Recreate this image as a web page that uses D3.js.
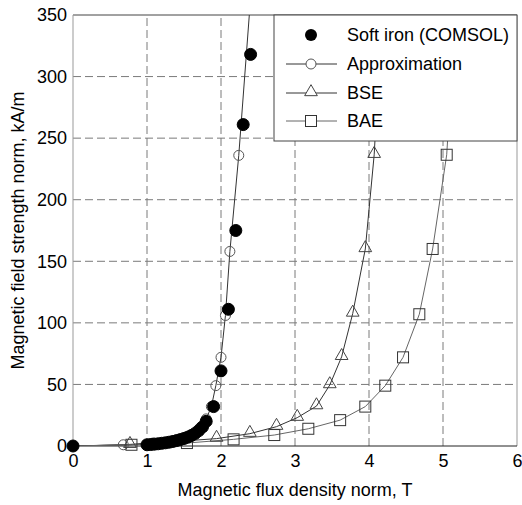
<!DOCTYPE html>
<html>
<head>
<meta charset="utf-8">
<script src="https://cdn.jsdelivr.net/npm/d3@7"></script>
<style>
  body { margin: 0; background: #fff; }
  text { font-family: Arial, "Liberation Sans", sans-serif; }
</style>
</head>
<body>
<div id="chart"></div>
<script>
// data (B in T, H in kA/m)
const ironB = [0, 1.0, 1.05, 1.1, 1.15, 1.2, 1.25, 1.3, 1.35, 1.4, 1.45, 1.5, 1.55, 1.6, 1.65, 1.7, 1.75, 1.8, 1.9, 2.0, 2.1, 2.2, 2.3, 2.4];
const ironH = [0, 1, 1.2, 1.5, 1.8, 2.2, 2.6, 3.1, 3.7, 4.4, 5.2, 6.1, 7.2, 8.5, 10.2, 12.5, 15.5, 20, 32, 61, 111, 175, 261, 318];

const approxB = [0, 0.68, 1.08, 1.45, 1.6, 1.72, 1.8, 1.87, 1.93, 2.0, 2.06, 2.12, 2.24, 2.42];
const approxH = [0, 1, 2.4, 5.4, 9, 15, 22, 32, 49, 72, 106, 158, 236, 380];

const bseB = [0, 0.77, 1.94, 2.39, 2.75, 3.03, 3.29, 3.47, 3.63, 3.78, 3.95, 4.07, 4.2];
const bseH = [0, 1, 6, 10, 15.7, 23, 32.4, 49.5, 72.4, 107.6, 160, 236.5, 380];

const baeB = [0, 0.79, 1.54, 2.17, 2.72, 3.18, 3.61, 3.95, 4.22, 4.46, 4.68, 4.86, 5.05, 5.2];
const baeH = [0, 1, 2.4, 5.4, 8.9, 14, 21, 32, 49, 72, 107, 160, 236.5, 380];

const xTicks = [0, 1, 2, 3, 4, 5, 6];
const yTicks = [0, 50, 100, 150, 200, 250, 300, 350];
const legendLabels = ["Soft iron (COMSOL)", "Approximation", "BSE", "BAE"];

const margin = { top: 15, bottom: 59, right: 5, left: 73 };
const width = 522;
const height = 505;

const zip = (b, h) => b.map((v, i) => ({ b: v, h: h[i] }));

const svg = d3.select("#chart").append("svg")
  .attr("width", width)
  .attr("height", height);

const x = d3.scaleLinear().domain([0, 6]).range([margin.left, width - margin.right]);
const y = d3.scaleLinear().domain([0, 350]).range([height - margin.bottom, margin.top]);

svg.append("clipPath").attr("id", "clip")
  .append("rect")
  .attr("x", margin.left).attr("y", margin.top)
  .attr("width", x(6) - x(0)).attr("height", y(0) - y(350));

// grid
const grid = svg.append("g").attr("stroke", "#7a7a7a").attr("stroke-dasharray", "8,4");
grid.selectAll("line.vx").data(xTicks.slice(1, -1)).join("line")
  .attr("x1", d => x(d)).attr("x2", d => x(d))
  .attr("y1", y(0)).attr("y2", y(350));
grid.selectAll("line.hy").data(yTicks.slice(1, -1)).join("line")
  .attr("x1", x(0)).attr("x2", x(6))
  .attr("y1", d => y(d)).attr("y2", d => y(d));

// frame
svg.append("line").attr("x1", x(0)).attr("x2", x(6)).attr("y1", y(350)).attr("y2", y(350)).attr("stroke", "#444");
svg.append("line").attr("x1", x(6)).attr("x2", x(6)).attr("y1", y(0)).attr("y2", y(350)).attr("stroke", "#999");
svg.append("line").attr("x1", x(0)).attr("x2", x(0)).attr("y1", y(0)).attr("y2", y(350)).attr("stroke", "#999");
svg.append("line").attr("x1", x(0)).attr("x2", x(6)).attr("y1", y(0)).attr("y2", y(0)).attr("stroke", "#222");

// axes labels
const fmt = d3.format("d");
const xAxis = svg.append("g")
  .attr("transform", `translate(0,${y(0)})`)
  .call(d3.axisBottom(x).tickValues(xTicks).tickFormat(fmt).tickSize(0).tickPadding(8));
const yAxis = svg.append("g")
  .attr("transform", `translate(${x(0)},0)`)
  .call(d3.axisLeft(y).tickValues(yTicks).tickFormat(fmt).tickSize(0).tickPadding(6));
[xAxis, yAxis].forEach(g => {
  g.select(".domain").remove();
  g.selectAll("text").attr("font-size", 18).attr("fill", "#000")
    .attr("font-family", "Arial, 'Liberation Sans', sans-serif");
});

svg.append("text")
  .attr("x", (x(0) + x(6)) / 2).attr("y", 496)
  .attr("text-anchor", "middle").attr("font-size", 18)
  .text("Magnetic flux density norm, T");
svg.append("text")
  .attr("transform", `translate(24,${(y(0) + y(350)) / 2}) rotate(-90)`)
  .attr("text-anchor", "middle").attr("font-size", 18)
  .text("Magnetic field strength norm, kA/m");

// series lines
const line = d3.line().x(d => x(d.b)).y(d => y(d.h));
const lines = svg.append("g").attr("clip-path", "url(#clip)").attr("fill", "none").attr("stroke-width", 1);
lines.append("path").datum(zip(approxB, approxH)).attr("d", line).attr("stroke", "#333");
lines.append("path").datum(zip(bseB, bseH)).attr("d", line).attr("stroke", "#333");
lines.append("path").datum(zip(baeB, baeH)).attr("d", line).attr("stroke", "#666");

// markers
const tri = d3.symbol().type(d3.symbolTriangle).size(70);
const inView = d => d.h <= 350 && !(d.b === 0 && d.h === 0);

const drawCircles = (data, r, fill, stroke) =>
  svg.append("g").selectAll("circle").data(data).join("circle")
    .attr("cx", d => x(d.b)).attr("cy", d => y(d.h)).attr("r", r)
    .attr("fill", fill).attr("stroke", stroke);

const drawTri = (g, px, py) => g.append("path").attr("d", tri())
  .attr("transform", `translate(${px},${py})`)
  .attr("fill", "none").attr("stroke", "#444");

const drawSquare = (g, px, py) => g.append("rect")
  .attr("x", px - 5.5).attr("y", py - 5.5).attr("width", 11).attr("height", 11)
  .attr("fill", "none").attr("stroke", "#333");

drawCircles(zip(approxB, approxH).filter(inView), 5, "none", "#555");
const bseG = svg.append("g");
zip(bseB, bseH).filter(inView).forEach(d => drawTri(bseG, x(d.b), y(d.h) - 1));
const baeG = svg.append("g");
zip(baeB, baeH).filter(inView).forEach(d => drawSquare(baeG, x(d.b), y(d.h)));
drawCircles(zip(ironB, ironH), 6, "#000", "#000");

// legend
const leg = svg.append("g");
leg.append("rect")
  .attr("x", 274).attr("y", y(350)).attr("width", x(6) - 274).attr("height", 126)
  .attr("fill", "#fff").attr("stroke", "#444");
const rowY = [35, 64, 93, 121];
legendLabels.forEach((lab, i) => {
  const cy = rowY[i];
  if (i > 0) {
    leg.append("line").attr("x1", 286).attr("x2", 337).attr("y1", cy).attr("y2", cy)
      .attr("stroke", i === 3 ? "#666" : "#333");
  }
  if (i === 0) leg.append("circle").attr("cx", 311).attr("cy", cy).attr("r", 6).attr("fill", "#000");
  if (i === 1) leg.append("circle").attr("cx", 311).attr("cy", cy).attr("r", 5).attr("fill", "#fff").attr("stroke", "#555");
  if (i === 2) drawTri(leg, 311, cy - 1).attr("fill", "#fff");
  if (i === 3) drawSquare(leg, 311, cy).attr("fill", "#fff");
  leg.append("text").attr("x", 347).attr("y", cy).attr("dy", "0.35em")
    .attr("font-size", 18).text(lab);
});
</script>
</body>
</html>
